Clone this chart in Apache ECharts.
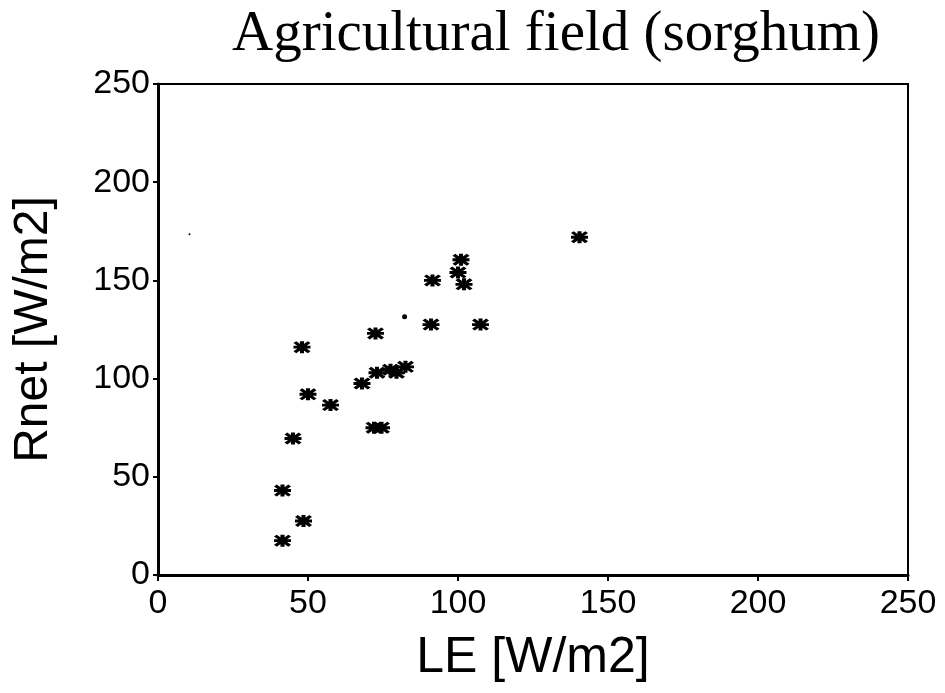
<!DOCTYPE html>
<html>
<head>
<meta charset="utf-8">
<script src="https://cdn.jsdelivr.net/npm/echarts@6/dist/echarts.min.js"></script>
<style>
html,body{margin:0;padding:0;background:#fff;}
#chart{width:945px;height:693px;}
</style>
</head>
<body>
<div id="chart"></div>
<script>
// Data: [LE, Rnet]
const leValues   = [140.5, 101, 100, 102, 91.5, 91, 107.5, 72.5, 48, 73, 77.5, 79.5, 82.5, 68, 50, 57.5, 72, 74.5, 45, 41.5, 48.5, 41.5];
const rnetValues = [172, 160.5, 154, 148, 150, 127.5, 127.5, 123, 116, 103, 104.5, 103, 106, 97.5, 92, 86.5, 75, 75, 69.5, 43, 27.5, 17.5];
// small specks visible in the scan
const speckLE   = [10.5, 82.2];
const speckRnet = [173.5, 131.5];
const speckSize = [2, 5];
const xTicks = [0, 50, 100, 150, 200, 250];
const yTicks = [0, 50, 100, 150, 200, 250];
const titleText = 'Agricultural field (sorghum)';
const xName = 'LE [W/m2]';
const yName = 'Rnet [W/m2]';

const points = leValues.map((v, i) => [v, rnetValues[i]]);
const specks = speckLE.map((v, i) => [v, speckRnet[i], speckSize[i]]);

const asterisk = 'path://M0 38 L100 38 L100 62 L0 62 Z M38 0 L62 0 L62 100 L38 100 Z M0 16 L16 0 L100 84 L84 100 Z M84 0 L100 16 L16 100 L0 84 Z';

const chart = echarts.init(document.getElementById('chart'), null, {renderer: 'canvas'});
const sansFont = 'Liberation Sans';
chart.setOption({
  backgroundColor: '#ffffff',
  animation: false,
  title: {
    text: titleText,
    left: 227,
    top: 2,
    textStyle: {fontFamily: 'Liberation Serif', fontSize: 57, fontWeight: 'normal', color: '#000'}
  },
  grid: {
    left: 158, top: 84, right: 37, bottom: 118,
    show: true, borderColor: '#000', borderWidth: 2, backgroundColor: 'transparent'
  },
  xAxis: {
    type: 'value', min: xTicks[0], max: xTicks[xTicks.length - 1], interval: xTicks[1] - xTicks[0],
    name: xName, nameLocation: 'middle', nameGap: 58,
    nameTextStyle: {fontFamily: sansFont, fontSize: 50, color: '#000'},
    axisLine: {show: true, onZero: false, lineStyle: {color: '#000', width: 3}},
    axisTick: {show: true, inside: false, length: 6, lineStyle: {color: '#000', width: 2}},
    axisLabel: {margin: 12, fontFamily: sansFont, fontSize: 34, color: '#000'},
    splitLine: {show: false}
  },
  yAxis: {
    type: 'value', min: yTicks[0], max: yTicks[yTicks.length - 1], interval: yTicks[1] - yTicks[0],
    name: yName, nameLocation: 'middle', nameGap: 100, nameRotate: 90,
    nameTextStyle: {fontFamily: sansFont, fontSize: 48, color: '#000'},
    axisLine: {show: true, onZero: false, lineStyle: {color: '#000', width: 3}},
    axisTick: {show: true, inside: false, length: 5, lineStyle: {color: '#000', width: 2}},
    axisLabel: {margin: 8, fontFamily: sansFont, fontSize: 34, color: '#000', padding: [10, 0, 0, 0]},
    splitLine: {show: false}
  },
  series: [
    {
      type: 'scatter',
      data: points,
      symbol: asterisk,
      symbolSize: [17, 12],
      itemStyle: {color: '#000', opacity: 1}
    },
    {
      type: 'scatter',
      data: specks,
      symbol: 'circle',
      symbolSize: function (d) { return d[2]; },
      itemStyle: {color: '#000', opacity: 1}
    }
  ]
});
</script>
</body>
</html>
